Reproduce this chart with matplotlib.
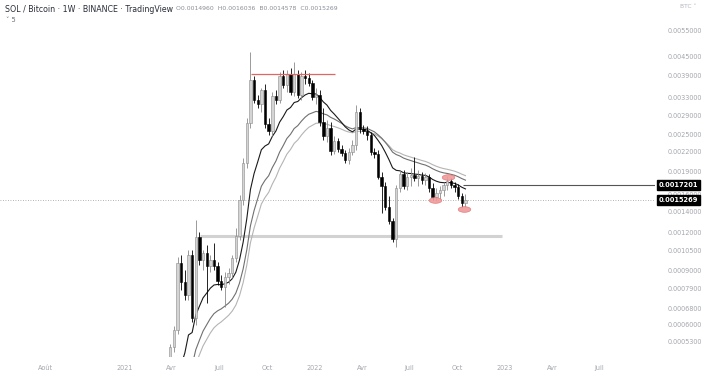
import matplotlib
matplotlib.use('Agg')
import matplotlib.pyplot as plt
import matplotlib.dates as mdates
from matplotlib.ticker import NullLocator, NullFormatter, FixedLocator, FixedFormatter
import numpy as np
import pandas as pd

# SOL/BTC weekly candles (Binance)
first_week = '2021-03-29'
opens = [0.000453, 0.000507, 0.000576, 0.000954, 0.000827, 0.000750, 0.001013, 0.000631, 0.001160, 0.000976,
         0.001028, 0.000933, 0.000976, 0.000933, 0.000833, 0.000796, 0.000859, 0.000885, 0.000990, 0.001169,
         0.001532, 0.002023, 0.002733, 0.003777, 0.003249, 0.003153, 0.003503, 0.002713, 0.002574, 0.003348,
         0.003249, 0.003892, 0.003637, 0.003951, 0.003451, 0.003951, 0.003374, 0.003892, 0.003834, 0.003692,
         0.003323, 0.003374, 0.002754, 0.002479, 0.002632, 0.002214, 0.002387, 0.002248, 0.002181, 0.002069,
         0.002198, 0.002317, 0.002969, 0.002613, 0.002574, 0.002497, 0.002198, 0.002165, 0.001821, 0.001702,
         0.001453, 0.001308, 0.001143, 0.001677, 0.001863, 0.001702, 0.001821, 0.001849, 0.001808, 0.001835,
         0.001781, 0.001821, 0.001677, 0.001567, 0.001615, 0.001652, 0.001715, 0.001767, 0.001715, 0.001689,
         0.001579, 0.0014960]
highs = [0.000519, 0.000594, 0.000998, 0.001013, 0.000905, 0.001052, 0.001052, 0.001318, 0.001204, 0.001052,
         0.001092, 0.001013, 0.001109, 0.000961, 0.000872, 0.000891, 0.000919, 0.001013, 0.001241, 0.001591,
         0.002101, 0.002838, 0.004662, 0.003892, 0.003374, 0.003556, 0.003665, 0.002838, 0.003451, 0.003503,
         0.004011, 0.004071, 0.004071, 0.004133, 0.004324, 0.004071, 0.004011, 0.004071, 0.003981, 0.003777,
         0.003556, 0.003503, 0.003060, 0.002796, 0.002754, 0.002479, 0.002442, 0.002317, 0.002231, 0.002265,
         0.002405, 0.003129, 0.003060, 0.002692, 0.002672, 0.002554, 0.002265, 0.002231, 0.001891, 0.001754,
         0.001579, 0.001338, 0.001715, 0.001920, 0.001920, 0.001891, 0.001949, 0.002117, 0.001920, 0.001891,
         0.001877, 0.001863, 0.001741, 0.001677, 0.001702, 0.001754, 0.001835, 0.001808, 0.001754, 0.001728,
         0.001615, 0.0016036]
lows = [0.000440, 0.000488, 0.000559, 0.000779, 0.000722, 0.000722, 0.000612, 0.000598, 0.000940, 0.000905,
        0.000706, 0.000891, 0.000905, 0.000808, 0.000779, 0.000685, 0.000815, 0.000852, 0.000961, 0.001134,
        0.001475, 0.001949, 0.002632, 0.003177, 0.003060, 0.002969, 0.002632, 0.002497, 0.002479, 0.003153,
        0.003177, 0.003556, 0.003451, 0.003374, 0.003348, 0.003299, 0.003249, 0.003665, 0.003610, 0.003249,
        0.003153, 0.002672, 0.002405, 0.002369, 0.002149, 0.002165, 0.002198, 0.002133, 0.002023, 0.002008,
        0.002149, 0.002231, 0.002535, 0.002516, 0.002405, 0.002149, 0.002101, 0.001794, 0.001389, 0.001421,
        0.001279, 0.001117, 0.001076, 0.001627, 0.001664, 0.001652, 0.001702, 0.001767, 0.001702, 0.001728,
        0.001715, 0.001627, 0.001532, 0.001520, 0.001544, 0.001579, 0.001652, 0.001677, 0.001627, 0.001544,
        0.001453, 0.0014578]
closes = [0.000507, 0.000576, 0.000954, 0.000827, 0.000750, 0.001013, 0.000631, 0.001160, 0.000976, 0.001028,
          0.000933, 0.000976, 0.000933, 0.000833, 0.000796, 0.000859, 0.000885, 0.000990, 0.001169, 0.001532,
          0.002023, 0.002733, 0.003777, 0.003249, 0.003153, 0.003503, 0.002713, 0.002574, 0.003348, 0.003249,
          0.003892, 0.003637, 0.003951, 0.003451, 0.003951, 0.003374, 0.003892, 0.003834, 0.003692, 0.003323,
          0.003374, 0.002754, 0.002479, 0.002632, 0.002214, 0.002387, 0.002248, 0.002181, 0.002069, 0.002198,
          0.002317, 0.002969, 0.002613, 0.002574, 0.002497, 0.002198, 0.002165, 0.001821, 0.001702, 0.001453,
          0.001308, 0.001143, 0.001677, 0.001863, 0.001702, 0.001821, 0.001849, 0.001808, 0.001835, 0.001781,
          0.001821, 0.001677, 0.001567, 0.001615, 0.001652, 0.001715, 0.001767, 0.001715, 0.001689, 0.001579,
          0.001496, 0.0015269]

# earlier weekly closes, below the visible range -- they only feed the averages
early_first = '2020-08-10'
early_closes = [0.00028, 0.00030, 0.00033, 0.00029, 0.00030, 0.00027, 0.00025, 0.00026, 0.00024, 0.00021,
                0.00019, 0.00016, 0.00014, 0.00013, 0.00014, 0.00011, 0.00010, 0.000083, 0.000065, 0.000058,
                0.000053, 0.000078, 0.000090, 0.000115, 0.00012, 0.00016, 0.00018, 0.00017, 0.00030, 0.00027,
                0.00025, 0.00031, 0.00032]

ma_fast, ma_mid, ma_slow = 14, 25, 32   # EMA spans

# drawings
ray_price = 0.0017201
ray_from = '2022-10-12'
res_price = 0.00395
res_span = ['2021-09-01', '2022-02-08']
sup_price = 0.001169
sup_span = ['2021-05-26', '2022-12-26']
mark_dates = ['2022-08-19', '2022-09-14', '2022-10-14']
mark_prices = [0.001532, 0.001821, 0.001432]

price_ticks = [0.0055, 0.0045, 0.0039, 0.0033, 0.0029, 0.0025, 0.0022, 0.0019, 0.0016, 0.0014,
               0.0012, 0.00105, 0.0009, 0.00079, 0.00068, 0.0006, 0.00053]
month_ticks = ['2020-08-01', '2021-01-01', '2021-04-01', '2021-07-01', '2021-10-01', '2022-01-01',
               '2022-04-01', '2022-07-01', '2022-10-01', '2023-01-01', '2023-04-01', '2023-07-01']
month_labels = ['Août', '2021', 'Avr', 'Juil', 'Oct', '2022', 'Avr', 'Juil', 'Oct', '2023', 'Avr', 'Juil']

#...!...!....................
def draw_candles(ax, x, o, h, l, c):
    up = c >= o
    body_fc = np.where(up, '#d4d4d4', '#000000')
    body_ec = np.where(up, '#8a8a8a', '#000000')
    wick_c = np.where(up, '#8a8a8a', '#000000')
    ax.vlines(x, l, h, colors=wick_c, lw=0.6, zorder=3)
    ax.bar(x, np.abs(c - o), bottom=np.minimum(o, c), width=4.6, color=body_fc,
           edgecolor=body_ec, linewidth=0.4, zorder=4)

#=================================
#  M A I N
#=================================
o = np.array(opens); h = np.array(highs); l = np.array(lows); c = np.array(closes)
assert len(o) == len(h) == len(l) == len(c)
dates = pd.date_range(first_week, periods=len(c), freq='7D')
x = mdates.date2num(dates)

all_dates = pd.date_range(early_first, periods=len(early_closes) + len(c), freq='7D')
allC = pd.Series(np.concatenate([early_closes, c]), index=all_dates)
ema_f = allC.ewm(span=ma_fast, adjust=False).mean()
ema_m = allC.ewm(span=ma_mid, adjust=False).mean()
ema_s = allC.ewm(span=ma_slow, adjust=False).mean()
xa = mdates.date2num(all_dates)

W, H = 719, 385
fig = plt.figure(figsize=(W / 100, H / 100), dpi=100)
ax = fig.add_axes([0, 28 / H, 655 / W, 357 / H])
ax.set_yscale('log')

ax.plot(xa, ema_s, color='#b4b4b4', lw=0.8, zorder=2)
ax.plot(xa, ema_m, color='#707070', lw=0.8, zorder=2)
ax.plot(xa, ema_f, color='#1a1a1a', lw=0.8, zorder=2)
draw_candles(ax, x, o, h, l, c)

# horizontal drawings
ax.axhline(c[-1], color='#9a9a9a', lw=0.6, ls=(0, (1, 2)), zorder=1)
d2n = lambda s: mdates.date2num(pd.Timestamp(s))
ax.hlines(sup_price, d2n(sup_span[0]), d2n(sup_span[1]), color='#d2d2d2', lw=2.2, zorder=1)
ax.hlines(res_price, d2n(res_span[0]), d2n(res_span[1]), color='#e06666', lw=0.9, zorder=5)
ax.hlines(ray_price, d2n(ray_from), d2n('2023-10-16'), color='#555555', lw=0.8, zorder=5)

t = np.linspace(0, 2 * np.pi, 40)
ell = list(zip(np.cos(t), 0.45 * np.sin(t)))
ax.plot([d2n(d) for d in mark_dates], mark_prices, ls='none', marker=ell, ms=9,
        mfc='#ef9a9a', mec='#e57373', mew=0.5, alpha=0.9, zorder=6)

ax.set_xlim(d2n('2020-05-06'), d2n('2023-10-16'))
ax.set_ylim(0.00047045, 0.006892)

ax.yaxis.tick_right()
ax.yaxis.set_major_locator(FixedLocator(price_ticks))
ax.yaxis.set_major_formatter(FixedFormatter(['%.7f' % p for p in price_ticks]))
ax.yaxis.set_minor_locator(NullLocator())
ax.yaxis.set_minor_formatter(NullFormatter())
ax.tick_params(axis='y', length=0, pad=9, labelsize=4.7, labelcolor='#a3a6ae')

ax.xaxis.set_major_locator(FixedLocator([d2n(d) for d in month_ticks]))
ax.xaxis.set_major_formatter(FixedFormatter(month_labels))
ax.tick_params(axis='x', length=0, pad=6, labelsize=4.7, labelcolor='#a3a6ae')
for s in ax.spines.values():
    s.set_visible(False)

# price labels on the scale
ytr = ax.get_yaxis_transform()
for p, txt in [(ray_price, '0.0017201'), (c[-1], '0.0015269')]:
    ax.text(1.006, p, txt, transform=ytr, ha='left', va='center', fontsize=4.8, color='white',
            fontweight='bold', clip_on=False, zorder=10,
            bbox=dict(boxstyle='square,pad=0.3', fc='black', ec='black'))

fig.text(5 / W, 1 - 9 / H, 'SOL / Bitcoin · 1W · BINANCE · TradingView', fontsize=5.65,
         color='#2a2e39', va='center', ha='left')
fig.text(176 / W, 1 - 9 / H, 'O0.0014960  H0.0016036  B0.0014578  C0.0015269', fontsize=4.4,
         color='#8a8d95', va='center', ha='left')
fig.text(6 / W, 1 - 20 / H, '˅ 5', fontsize=4.8, color='#6a6d75', va='center', ha='left')
fig.text(680 / W, 1 - 6 / H, 'BTC ˅', fontsize=4.3, color='#b2b5be', va='center', ha='left')

fig.savefig('out.png', dpi=100)
print('M: saved out.png')
